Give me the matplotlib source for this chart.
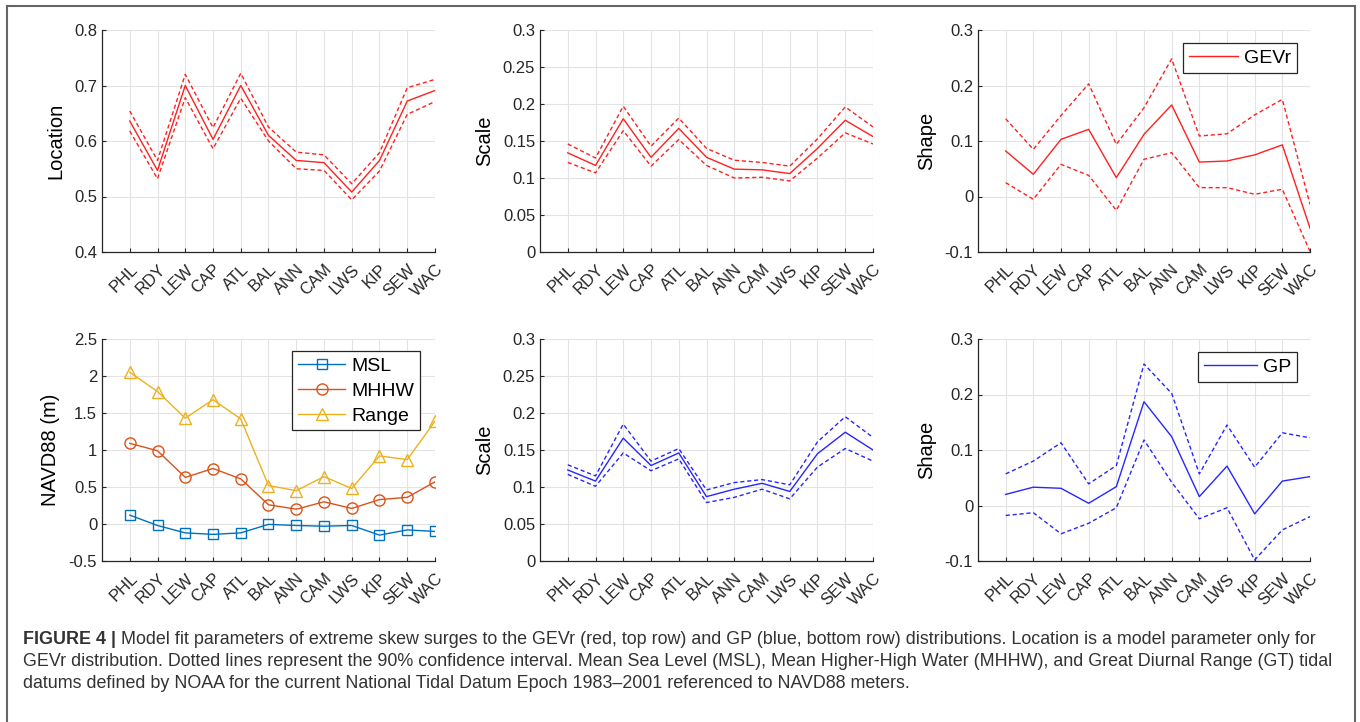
import numpy as np
import matplotlib
matplotlib.use("Agg")
import matplotlib.pyplot as plt
from matplotlib.lines import Line2D
from matplotlib.ticker import FormatStrFormatter
from matplotlib.transforms import ScaledTranslation

plt.rcParams['font.family'] = ['Liberation Sans', 'DejaVu Sans']

stations = ['PHL', 'RDY', 'LEW', 'CAP', 'ATL', 'BAL', 'ANN', 'CAM', 'LWS', 'KIP', 'SEW', 'WAC']

# GEVr (top row, red)
gev_loc = [0.636, 0.547, 0.700, 0.603, 0.700, 0.610, 0.565, 0.561, 0.508, 0.565, 0.672, 0.691]
gev_loc_hi = [0.654, 0.565, 0.720, 0.624, 0.722, 0.625, 0.580, 0.575, 0.523, 0.579, 0.696, 0.711]
gev_loc_lo = [0.618, 0.532, 0.678, 0.586, 0.677, 0.600, 0.550, 0.547, 0.494, 0.546, 0.648, 0.671]

gev_scale = [0.134, 0.117, 0.180, 0.128, 0.167, 0.128, 0.112, 0.111, 0.106, 0.140, 0.178, 0.156]
gev_scale_hi = [0.146, 0.127, 0.197, 0.143, 0.181, 0.140, 0.124, 0.121, 0.116, 0.153, 0.196, 0.169]
gev_scale_lo = [0.121, 0.107, 0.164, 0.116, 0.152, 0.117, 0.100, 0.101, 0.096, 0.127, 0.161, 0.146]

gev_shape = [0.082, 0.040, 0.103, 0.121, 0.034, 0.112, 0.165, 0.062, 0.064, 0.075, 0.093, -0.057]
gev_shape_hi = [0.140, 0.085, 0.146, 0.203, 0.094, 0.160, 0.248, 0.109, 0.113, 0.147, 0.175, -0.014]
gev_shape_lo = [0.025, -0.005, 0.058, 0.038, -0.025, 0.067, 0.079, 0.016, 0.016, 0.004, 0.013, -0.099]

# tidal datums (m, NAVD88)
msl = [0.12, -0.02, -0.12, -0.14, -0.12, -0.005, -0.02, -0.03, -0.02, -0.15, -0.08, -0.10]
mhhw = [1.09, 0.99, 0.63, 0.75, 0.61, 0.26, 0.20, 0.30, 0.21, 0.33, 0.36, 0.57]
tide_range = [2.05, 1.79, 1.43, 1.68, 1.42, 0.52, 0.45, 0.64, 0.48, 0.92, 0.87, 1.39]

# GP (bottom row, blue)
gp_scale = [0.123, 0.108, 0.166, 0.129, 0.146, 0.087, 0.097, 0.105, 0.094, 0.145, 0.174, 0.150]
gp_scale_hi = [0.130, 0.115, 0.185, 0.135, 0.152, 0.096, 0.106, 0.110, 0.103, 0.161, 0.195, 0.167]
gp_scale_lo = [0.117, 0.101, 0.146, 0.122, 0.138, 0.079, 0.086, 0.097, 0.084, 0.127, 0.152, 0.135]

gp_shape = [0.020, 0.033, 0.031, 0.004, 0.034, 0.187, 0.124, 0.016, 0.071, -0.015, 0.044, 0.052]
gp_shape_hi = [0.057, 0.080, 0.113, 0.039, 0.072, 0.255, 0.202, 0.057, 0.145, 0.069, 0.131, 0.122]
gp_shape_lo = [-0.018, -0.013, -0.051, -0.032, -0.004, 0.118, 0.042, -0.024, -0.004, -0.098, -0.044, -0.020]

caption_bold = 'FIGURE 4 |'
caption_lines = [
    ' Model fit parameters of extreme skew surges to the GEVr (red, top row) and GP (blue, bottom row) distributions. Location is a model parameter only for',
    'GEVr distribution. Dotted lines represent the 90% confidence interval. Mean Sea Level (MSL), Mean Higher-High Water (MHHW), and Great Diurnal Range (GT) tidal',
    'datums defined by NOAA for the current National Tidal Datum Epoch 1983\u20132001 referenced to NAVD88 meters.',
]

W, H = 1360, 722
fig = plt.figure(figsize=(W / 100, H / 100), dpi=100)
x = np.arange(1, len(stations) + 1)
axcol = '#262626'
lab_shift = ScaledTranslation(8 / 100, 0, fig.dpi_scale_trans)


def px_axes(left, top, right, bottom):
    return fig.add_axes([left / W, 1 - bottom / H, (right - left) / W, (bottom - top) / H])


def style(ax, ylim, yticks, ylabel, fmt='%g'):
    ax.set_xlim(0, 12)
    ax.set_ylim(*ylim)
    ax.set_yticks(yticks)
    ax.yaxis.set_major_formatter(FormatStrFormatter(fmt))
    ax.set_xticks(x)
    ax.set_xticklabels(stations, rotation=45, ha='right', va='top',
                       rotation_mode='anchor')
    for lab in ax.get_xticklabels():
        lab.set_transform(lab.get_transform() + lab_shift)
    ax.tick_params(axis='x', pad=7)
    ax.tick_params(direction='in', length=3, width=0.8, colors=axcol,
                   labelsize=12, labelcolor=axcol)
    for s in ['top', 'right']:
        ax.spines[s].set_visible(False)
    for s in ['left', 'bottom']:
        ax.spines[s].set_color(axcol)
        ax.spines[s].set_linewidth(0.9)
    ax.grid(True, color='#e3e3e3', lw=0.8)
    ax.set_axisbelow(True)
    ax.set_ylabel(ylabel, fontsize=14.5, color='black', labelpad=6)


def ci_plot(ax, mid, hi, lo, col):
    ax.plot(x, mid, '-', color=col, lw=1.0)
    ax.plot(x, hi, '--', color=col, lw=1.0, dashes=(3, 2))
    ax.plot(x, lo, '--', color=col, lw=1.0, dashes=(3, 2))


def box_legend(leg):
    leg.get_frame().set_linewidth(0.9)


red = '#ff2020'
blue = '#2626ff'
leg_kw = dict(fontsize=14, fancybox=False, framealpha=1, edgecolor='#262626',
              handletextpad=0.3, borderaxespad=0)

ax1 = px_axes(102, 30, 435, 252)
ci_plot(ax1, gev_loc, gev_loc_hi, gev_loc_lo, red)
style(ax1, (0.4, 0.8), [0.4, 0.5, 0.6, 0.7, 0.8], 'Location', '%.1f')

ax2 = px_axes(540, 30, 873, 252)
ci_plot(ax2, gev_scale, gev_scale_hi, gev_scale_lo, red)
style(ax2, (0, 0.3), [0, 0.05, 0.1, 0.15, 0.2, 0.25, 0.3], 'Scale')

ax3 = px_axes(978, 30, 1310, 252)
ci_plot(ax3, gev_shape, gev_shape_hi, gev_shape_lo, red)
style(ax3, (-0.1, 0.3), [-0.1, 0, 0.1, 0.2, 0.3], 'Shape')
box_legend(ax3.legend([Line2D([], [], color=red, lw=1.0)], ['GEVr'], loc='upper right',
                      bbox_to_anchor=(0.96, 0.94), handlelength=2.5,
                      borderpad=0.3, **leg_kw))

ax4 = px_axes(102, 339, 435, 561)
ax4.plot(x, msl, '-s', color='#0072BD', mfc='none', ms=7, lw=1.0, mew=1.0, label='MSL')
ax4.plot(x, mhhw, '-o', color='#D95319', mfc='none', ms=8, lw=1.0, mew=1.0, label='MHHW')
ax4.plot(x, tide_range, '-^', color='#EDB120', mfc='none', ms=9, lw=1.0, mew=1.0, label='Range')
style(ax4, (-0.5, 2.5), [-0.5, 0, 0.5, 1, 1.5, 2, 2.5], 'NAVD88 (m)')
box_legend(ax4.legend(loc='upper right', bbox_to_anchor=(0.955, 0.945), handlelength=2.45,
                      borderpad=0.3, labelspacing=0.38, **leg_kw))

ax5 = px_axes(540, 339, 873, 561)
ci_plot(ax5, gp_scale, gp_scale_hi, gp_scale_lo, blue)
style(ax5, (0, 0.3), [0, 0.05, 0.1, 0.15, 0.2, 0.25, 0.3], 'Scale')

ax6 = px_axes(978, 339, 1310, 561)
ci_plot(ax6, gp_shape, gp_shape_hi, gp_shape_lo, blue)
style(ax6, (-0.1, 0.3), [-0.1, 0, 0.1, 0.2, 0.3], 'Shape')
box_legend(ax6.legend([Line2D([], [], color=blue, lw=1.0)], ['GP'], loc='upper right',
                      bbox_to_anchor=(0.96, 0.94), handlelength=2.7,
                      borderpad=0.3, **leg_kw))

# outer frame (open at the bottom)
frame_col = '#666666'
fig.add_artist(Line2D([7 / W, 7 / W], [0, 1 - 6 / H], color=frame_col, lw=1.5))
fig.add_artist(Line2D([1355 / W, 1355 / W], [0, 1 - 6 / H], color=frame_col, lw=1.5))
fig.add_artist(Line2D([7 / W, 1355 / W], [1 - 6 / H, 1 - 6 / H], color=frame_col, lw=1.5))

# caption
cap_fs = 12.9
cap_col = '#333333'
y0 = 640
renderer = fig.canvas.get_renderer()
tb = fig.text(23 / W, 1 - y0 / H, caption_bold, fontsize=cap_fs, fontweight='bold',
              color=cap_col, va='center', ha='left')
bb = tb.get_window_extent(renderer)
fig.text(bb.x1 / W, 1 - y0 / H, caption_lines[0], fontsize=cap_fs, color=cap_col,
         va='center', ha='left')
for i, line in enumerate(caption_lines[1:]):
    fig.text(23 / W, 1 - (y0 + 21.5 * (i + 1)) / H, line, fontsize=cap_fs,
             color=cap_col, va='center', ha='left')

fig.savefig('out.png', dpi=100)
